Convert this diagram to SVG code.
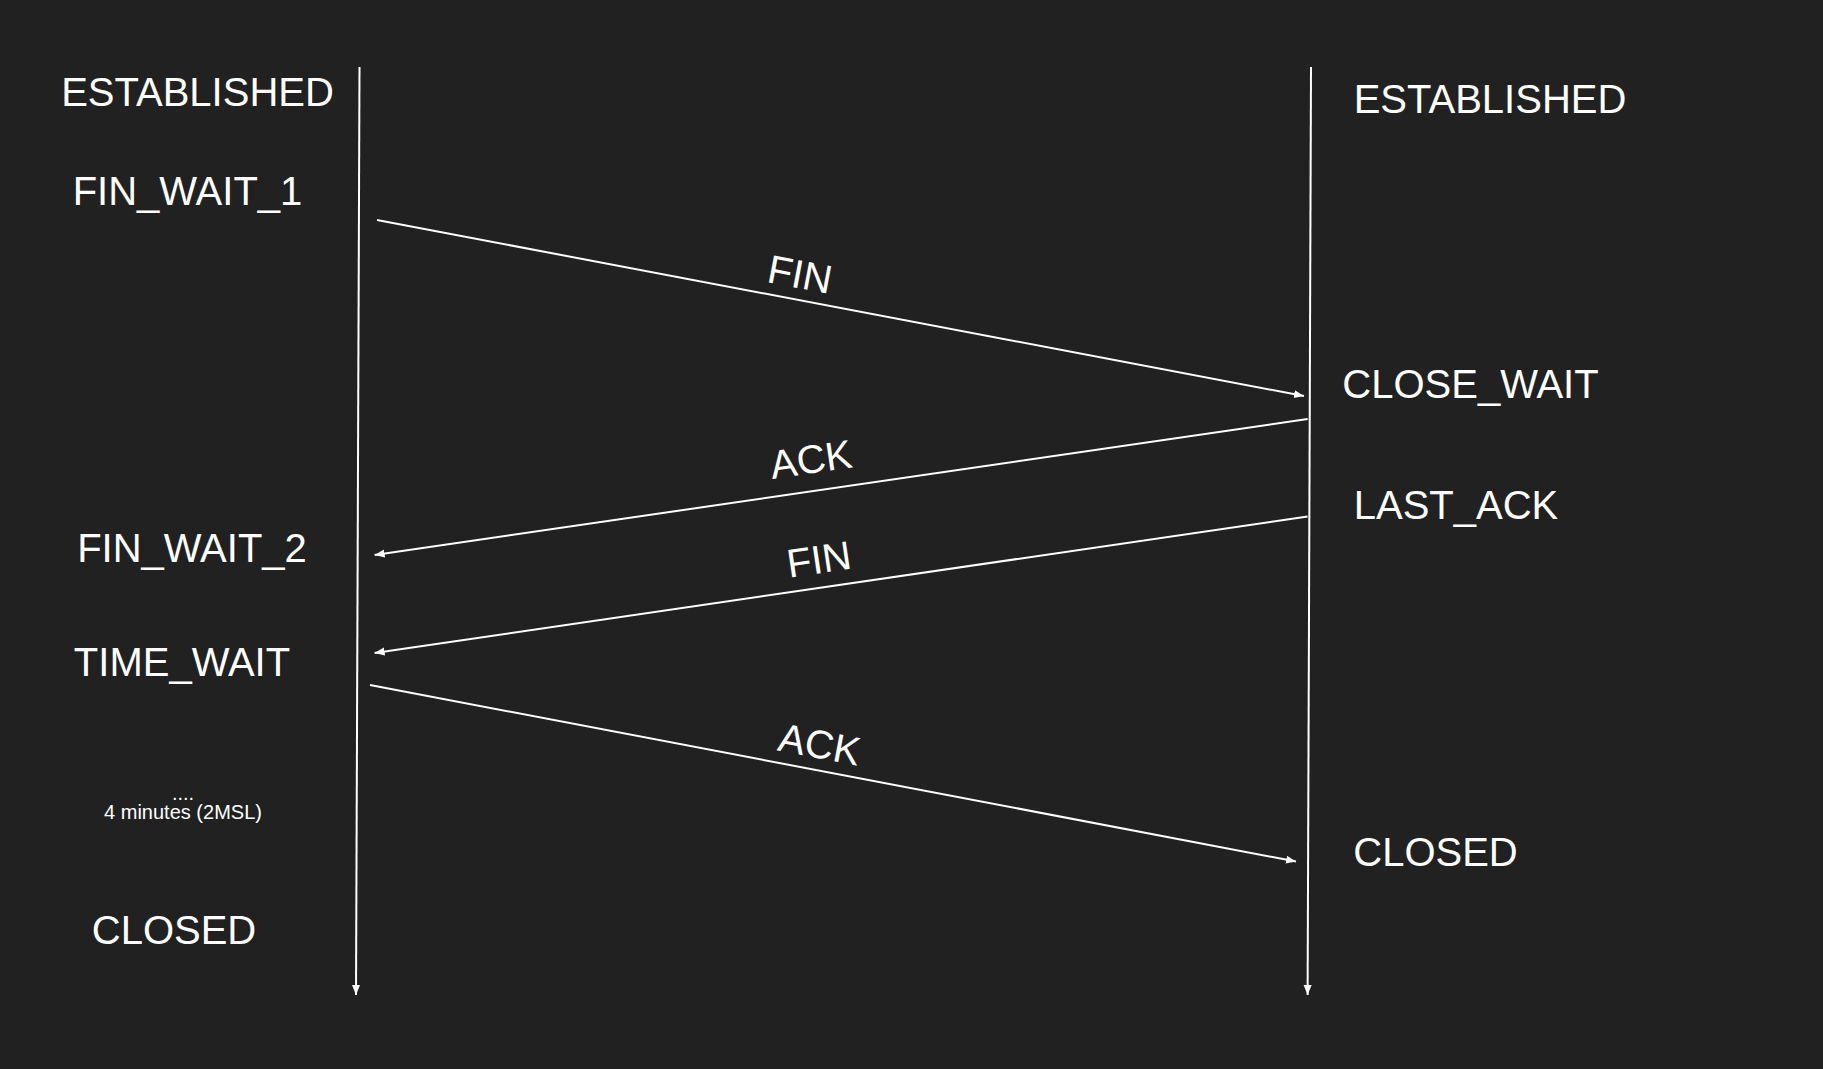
<svg xmlns="http://www.w3.org/2000/svg" width="1823" height="1069" viewBox="0 0 1823 1069">
<style>
.bg{fill:#212121}
.st{font-family:"Liberation Sans",Arial,Helvetica,sans-serif;font-size:40px;fill:#ffffff;text-anchor:middle}
.sm{font-family:"Liberation Sans",Arial,Helvetica,sans-serif;font-size:20px;fill:#ffffff;text-anchor:middle}
.lb{font-family:"Liberation Sans",Arial,Helvetica,sans-serif;font-size:40px;fill:#ffffff;text-anchor:middle}
.ln{stroke:#ffffff;stroke-width:2;fill:none}
</style>
<defs>
<marker id="ah" markerUnits="userSpaceOnUse" markerWidth="12" markerHeight="10" refX="10" refY="4" orient="auto">
<path d="M0,0 L10,4 L0,8 Z" fill="#ffffff"/>
</marker>
</defs>
<rect class="bg" x="0" y="0" width="1823" height="1069"/>
<g id="connectors">
<line id="lifeline-left" class="ln" x1="359.5" y1="67" x2="356" y2="995" marker-end="url(#ah)"/>
<line id="lifeline-right" class="ln" x1="1311" y1="67" x2="1307.6" y2="995" marker-end="url(#ah)"/>
<line id="msg-fin1" class="ln" x1="377" y1="220" x2="1304" y2="396" marker-end="url(#ah)"/>
<line id="msg-ack1" class="ln" x1="1307.6" y1="419" x2="374.6" y2="555" marker-end="url(#ah)"/>
<line id="msg-fin2" class="ln" x1="1307.6" y1="516.5" x2="374.6" y2="653" marker-end="url(#ah)"/>
<line id="msg-ack2" class="ln" x1="370" y1="685" x2="1296" y2="861.5" marker-end="url(#ah)"/>
<text class="lb" x="797.5" y="288" transform="rotate(10.75 797.5 288)">FIN</text>
<text class="lb" x="813" y="473" transform="rotate(-8.29 813 473)">ACK</text>
<text class="lb" x="821" y="573" transform="rotate(-8.31 821 573)">FIN</text>
<text class="lb" x="817" y="758" transform="rotate(10.76 817 758)">ACK</text>
</g>
<g id="client-established"><text class="st" x="197.5" y="106">ESTABLISHED</text></g>
<g id="client-fin-wait-1"><text class="st" x="187.5" y="205">FIN_WAIT_1</text></g>
<g id="client-fin-wait-2"><text class="st" x="192" y="561.5">FIN_WAIT_2</text></g>
<g id="client-time-wait"><text class="st" x="182" y="676">TIME_WAIT</text></g>
<g id="client-wait-note">
<text class="sm" x="183" y="800">....</text>
<text class="sm" x="183" y="819">4 minutes (2MSL)</text>
</g>
<g id="client-closed"><text class="st" x="174" y="943.5">CLOSED</text></g>
<g id="server-established"><text class="st" x="1490" y="113">ESTABLISHED</text></g>
<g id="server-close-wait"><text class="st" x="1470.5" y="397.5">CLOSE_WAIT</text></g>
<g id="server-last-ack"><text class="st" x="1456" y="519">LAST_ACK</text></g>
<g id="server-closed"><text class="st" x="1435.5" y="866">CLOSED</text></g>
</svg>
